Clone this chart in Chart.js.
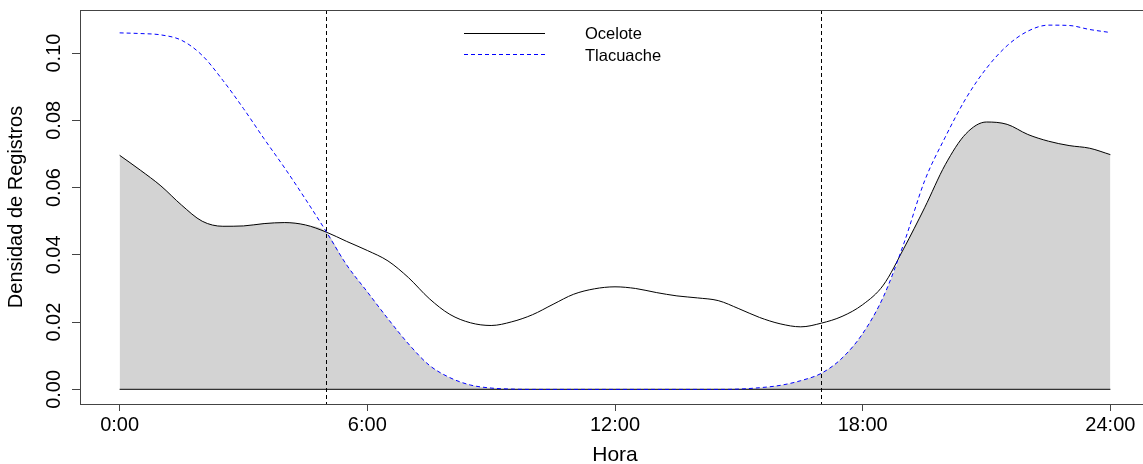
<!DOCTYPE html>
<html>
<head>
<meta charset="utf-8">
<script src="https://cdn.jsdelivr.net/npm/chart.js@4.4.1/dist/chart.umd.min.js"></script>
<style>
  html, body { margin: 0; padding: 0; background: #fff; overflow: hidden; }
  #wrap { width: 1160px; height: 464px; }
</style>
</head>
<body>
<div id="wrap"><canvas id="overlapChart" width="1160" height="464"></canvas></div>
<script>
// Hours of the day (x values of the density curves)
const hours = [0, 0.5, 1, 1.5, 2, 2.5, 3, 3.5, 4, 4.5, 5, 5.5, 6, 6.5, 7, 7.5, 8, 8.5,
  9, 9.5, 10, 10.5, 11, 11.5, 12, 12.5, 13, 13.5, 14, 14.5, 15, 15.5, 16, 16.5, 17,
  17.5, 18, 18.5, 19, 19.5, 20, 20.5, 21, 21.5, 22, 22.5, 23, 23.5, 24];

// Kernel density of records - Ocelote (solid black)
const ocelote = [0.0696, 0.0652, 0.0605, 0.0548, 0.0500, 0.0485, 0.0486, 0.0493, 0.0496,
  0.0489, 0.0468, 0.0440, 0.0413, 0.0382, 0.0332, 0.0270, 0.0223, 0.0198, 0.0190,
  0.0201, 0.0222, 0.0253, 0.0283, 0.0299, 0.0305, 0.0300, 0.0288, 0.0278, 0.0272,
  0.0264, 0.0240, 0.0214, 0.0195, 0.0186, 0.0197, 0.0217, 0.0252, 0.0310, 0.0420,
  0.0540, 0.0668, 0.0760, 0.0795, 0.0788, 0.0758, 0.0738, 0.0725, 0.0717, 0.0698];

// Kernel density of records - Tlacuache (dashed blue)
const tlacuache = [0.1060, 0.1058, 0.1054, 0.1038, 0.0993, 0.0919, 0.0835, 0.0745, 0.0658,
  0.0566, 0.0470, 0.0370, 0.0290, 0.0210, 0.0135, 0.0072, 0.0035, 0.0013, 0.0004,
  0.0001, 0.0000, 0.0000, 0.0000, 0.0000, 0.0000, 0.0000, 0.0000, 0.0000, 0.0000,
  0.0000, 0.0001, 0.0005, 0.0012, 0.0026, 0.0048, 0.0093, 0.0166, 0.0275, 0.0435,
  0.0620, 0.0750, 0.0865, 0.0955, 0.1022, 0.1065, 0.1083, 0.1082, 0.1070, 0.1061];

// Axis ticks
const xTicks = [0, 6, 12, 18, 24];
const xTickLabels = ['0:00', '6:00', '12:00', '18:00', '24:00'];
const yTicks = [0, 0.02, 0.04, 0.06, 0.08, 0.10];

// Sunrise / sunset reference lines (hours)
const sunLines = [5, 17];

const seriesNames = ['Ocelote', 'Tlacuache'];

const FONT = '"Liberation Sans", Arial, sans-serif';

// overlap area = lower of the two curves at each hour
const overlap = hours.map((h, i) => ({ x: h, y: Math.min(ocelote[i], tlacuache[i]) }));
const toPoints = arr => hours.map((h, i) => ({ x: h, y: arr[i] }));

// Box, sunrise/sunset lines and legend drawn on top of the datasets
const decorPlugin = {
    id: 'decor',
    afterDatasetsDraw(chart) {
        const { ctx, chartArea, scales } = chart;
        ctx.save();

        // dashed vertical lines
        ctx.strokeStyle = '#000';
        ctx.lineWidth = 1;
        ctx.setLineDash([4, 3]);
        sunLines.forEach(h => {
            const x = Math.round(scales.x.getPixelForValue(h)) + 0.5;
            ctx.beginPath();
            ctx.moveTo(x, chartArea.top);
            ctx.lineTo(x, chartArea.bottom);
            ctx.stroke();
        });

        // plot box
        ctx.setLineDash([]);
        ctx.strokeStyle = '#444';
        ctx.strokeRect(Math.round(chartArea.left) + 0.5, Math.round(chartArea.top) + 0.5,
            Math.round(chartArea.right - chartArea.left), Math.round(chartArea.bottom - chartArea.top));

        // legend
        ctx.font = '16.5px ' + FONT;
        ctx.fillStyle = '#000';
        ctx.textBaseline = 'middle';
        ctx.textAlign = 'left';

        ctx.strokeStyle = '#000';
        ctx.beginPath();
        ctx.moveTo(464, 33.5);
        ctx.lineTo(545, 33.5);
        ctx.stroke();
        ctx.fillText(seriesNames[0], 585, 34);

        ctx.strokeStyle = 'blue';
        ctx.setLineDash([4, 3]);
        ctx.beginPath();
        ctx.moveTo(464, 54.5);
        ctx.lineTo(545, 54.5);
        ctx.stroke();
        ctx.fillText(seriesNames[1], 585, 56);

        ctx.restore();
    }
};

Chart.defaults.color = '#000';
Chart.defaults.font.family = FONT;

new Chart(document.getElementById('overlapChart'), {
    type: 'line',
    data: {
        datasets: [
            {
                label: 'Tlacuache',
                data: toPoints(tlacuache),
                borderColor: 'blue',
                borderWidth: 1,
                borderDash: [4, 3],
                pointRadius: 0,
                fill: false,
                cubicInterpolationMode: 'monotone',
                order: 1
            },
            {
                label: 'Ocelote',
                data: toPoints(ocelote),
                borderColor: '#000',
                borderWidth: 1,
                pointRadius: 0,
                fill: false,
                cubicInterpolationMode: 'monotone',
                order: 2
            },
            {
                label: 'base',
                data: [{ x: 0, y: 0 }, { x: 24, y: 0 }],
                borderColor: '#333',
                borderWidth: 1.2,
                pointRadius: 0,
                fill: false,
                order: 3
            },
            {
                label: 'overlap',
                data: overlap,
                borderWidth: 0,
                borderColor: 'rgba(0,0,0,0)',
                backgroundColor: '#d3d3d3',
                pointRadius: 0,
                fill: 'origin',
                cubicInterpolationMode: 'monotone',
                order: 4
            }
        ]
    },
    options: {
        responsive: false,
        animation: false,
        devicePixelRatio: 1,
        layout: { padding: { top: 10, right: 10, left: 0, bottom: 0 } },
        plugins: {
            legend: { display: false },
            tooltip: { enabled: false }
        },
        scales: {
            x: {
                type: 'linear',
                min: -0.96,
                max: 24.96,
                afterBuildTicks: s => { s.ticks = xTicks.map(v => ({ value: v })); },
                afterFit: s => { s.height = 60; },
                border: { display: false },
                grid: {
                    drawOnChartArea: false,
                    drawTicks: true,
                    tickLength: 7,
                    color: '#444'
                },
                ticks: {
                    font: { size: 20 },
                    padding: 2,
                    maxRotation: 0,
                    autoSkip: false,
                    callback: v => xTickLabels[xTicks.indexOf(v)]
                },
                title: {
                    display: true,
                    text: 'Hora',
                    font: { size: 21, lineHeight: 0.8 },
                    padding: { top: 0, bottom: 0 }
                }
            },
            y: {
                type: 'linear',
                min: -0.00434,
                max: 0.1128,
                afterBuildTicks: s => { s.ticks = yTicks.map(v => ({ value: v })); },
                afterFit: s => { s.width = 80; },
                border: { display: false },
                grid: {
                    drawOnChartArea: false,
                    drawTicks: true,
                    tickLength: 8,
                    color: '#444'
                },
                ticks: {
                    font: { size: 20 },
                    minRotation: 90,
                    maxRotation: 90,
                    crossAlign: 'center',
                    padding: -2,
                    autoSkip: false,
                    callback: v => v.toFixed(2)
                },
                title: {
                    display: true,
                    text: 'Densidad de Registros',
                    font: { size: 20, lineHeight: 1.2 },
                    padding: { top: 4, bottom: 0 }
                }
            }
        }
    },
    plugins: [decorPlugin]
});
</script>
</body>
</html>
